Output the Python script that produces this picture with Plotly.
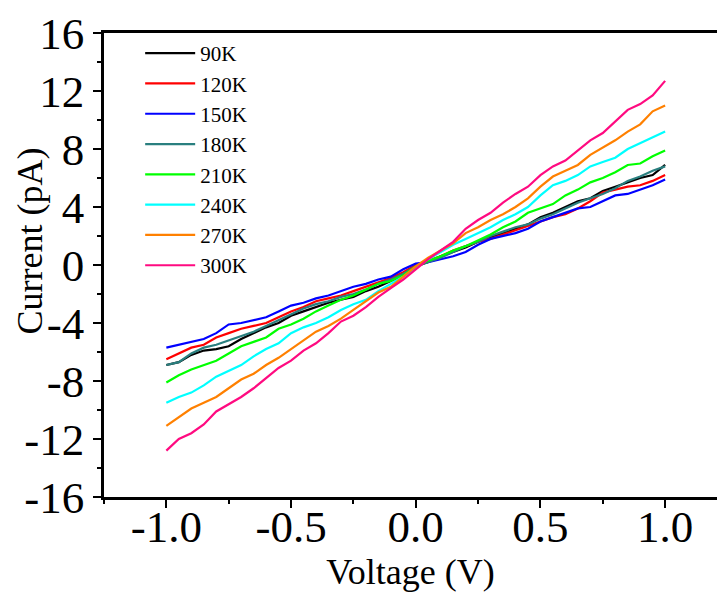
import plotly.graph_objects as go

voltage = [round(-1 + 0.05 * i, 2) for i in range(41)]

labels = ["90K", "120K", "150K", "180K", "210K", "240K", "270K", "300K"]
colors = ["#000000", "#FF0000", "#0000FF", "#2A7F7F", "#00FF00", "#00FFFF", "#FF8000", "#FF0A80"]

x_tickvals = [-1.0, -0.5, 0.0, 0.5, 1.0]
x_ticktext = ["-1.0", "-0.5", "0.0", "0.5", "1.0"]
y_tickvals = [-16, -12, -8, -4, 0, 4, 8, 12, 16]
y_ticktext = ["-16", "-12", "-8", "-4", "0", "4", "8", "12", "16"]

i_90K = [-6.9, -6.7, -6.2, -5.9, -5.8, -5.6, -5.1, -4.7, -4.3, -4.0, -3.5,
         -3.2, -2.9, -2.6, -2.4, -2.2, -1.8, -1.5, -1.1, -0.7, -0.1,
         0.2, 0.6, 0.9, 1.2, 1.6, 1.9, 2.2, 2.5, 2.8, 3.3,
         3.6, 4.0, 4.4, 4.6, 5.1, 5.4, 5.7, 6.0, 6.2, 6.9]
i_120K = [-6.5, -6.1, -5.7, -5.5, -5.0, -4.7, -4.4, -4.2, -4.0, -3.6, -3.2,
          -2.9, -2.5, -2.3, -2.1, -1.8, -1.5, -1.2, -0.9, -0.5, 0.0,
          0.3, 0.6, 1.0, 1.3, 1.6, 1.8, 2.1, 2.4, 2.7, 3.0,
          3.3, 3.5, 3.9, 4.4, 5.0, 5.2, 5.4, 5.5, 5.8, 6.2]
i_150K = [-5.7, -5.5, -5.3, -5.1, -4.7, -4.1, -4.0, -3.8, -3.6, -3.2, -2.8,
          -2.6, -2.3, -2.1, -1.8, -1.5, -1.3, -1.0, -0.8, -0.3, 0.1,
          0.2, 0.4, 0.6, 0.9, 1.4, 1.8, 2.0, 2.2, 2.5, 3.0,
          3.3, 3.6, 3.9, 4.0, 4.4, 4.8, 4.9, 5.2, 5.5, 5.9]
i_180K = [-6.9, -6.7, -6.1, -5.7, -5.5, -5.2, -4.9, -4.6, -4.2, -3.8, -3.4,
          -3.0, -2.7, -2.5, -2.2, -2.0, -1.7, -1.3, -1.0, -0.6, -0.1,
          0.2, 0.5, 0.9, 1.3, 1.6, 2.0, 2.3, 2.6, 2.8, 3.2,
          3.5, 3.9, 4.3, 4.6, 4.9, 5.3, 5.8, 6.1, 6.5, 6.8]
i_210K = [-8.1, -7.6, -7.2, -6.9, -6.6, -6.1, -5.6, -5.3, -5.0, -4.4, -4.1,
          -3.7, -3.2, -2.8, -2.4, -2.1, -1.7, -1.3, -1.1, -0.7, -0.1,
          0.3, 0.6, 1.0, 1.3, 1.7, 2.1, 2.6, 3.0, 3.6, 3.9,
          4.2, 4.8, 5.2, 5.7, 6.0, 6.4, 6.9, 7.0, 7.5, 7.9]
i_240K = [-9.5, -9.1, -8.8, -8.3, -7.7, -7.3, -6.9, -6.3, -5.8, -5.4, -4.7,
          -4.3, -4.0, -3.6, -3.1, -2.7, -2.4, -1.8, -1.3, -0.8, -0.2,
          0.4, 0.9, 1.4, 1.8, 2.2, 2.6, 3.1, 3.5, 4.0, 4.8,
          5.5, 5.8, 6.2, 6.8, 7.1, 7.4, 8.0, 8.4, 8.8, 9.2]
i_270K = [-11.1, -10.5, -9.9, -9.5, -9.1, -8.5, -7.9, -7.5, -6.9, -6.4, -5.8,
          -5.2, -4.6, -4.2, -3.7, -3.1, -2.5, -1.9, -1.5, -0.8, -0.1,
          0.5, 1.0, 1.5, 2.2, 2.6, 3.1, 3.5, 4.0, 4.6, 5.4,
          6.1, 6.5, 6.9, 7.6, 8.1, 8.6, 9.2, 9.7, 10.6, 11.0]
i_300K = [-12.8, -12.0, -11.6, -11.0, -10.1, -9.6, -9.1, -8.5, -7.8, -7.1, -6.6,
          -5.9, -5.4, -4.7, -3.9, -3.5, -2.9, -2.2, -1.6, -1.0, -0.3,
          0.4, 1.0, 1.6, 2.5, 3.1, 3.6, 4.3, 4.9, 5.4, 6.2,
          6.8, 7.2, 7.9, 8.6, 9.1, 9.9, 10.7, 11.1, 11.7, 12.7]

series = [i_90K, i_120K, i_150K, i_180K, i_210K, i_240K, i_270K, i_300K]

fig = go.Figure()
for name, col, vals in zip(labels, colors, series):
    fig.add_trace(go.Scatter(x=voltage, y=vals, mode="lines", name=name,
                             line=dict(color=col, width=2.2)))

serif = "Liberation Serif, Times New Roman, serif"
axis_common = dict(
    showgrid=False, zeroline=False, showline=True, linecolor="black", linewidth=2.5,
    ticks="outside", ticklen=8, tickwidth=2, tickcolor="black",
    tickfont=dict(family=serif, size=45, color="black"),
    mirror=True, automargin=False,
)
fig.update_layout(
    width=717, height=594,
    margin=dict(l=104, r=0, t=33, b=97),
    paper_bgcolor="white", plot_bgcolor="white",
    xaxis=dict(range=[-1.25, 1.208], tickvals=x_tickvals, ticktext=x_ticktext,
               ticklabelstandoff=-20,
               minor=dict(dtick=0.25, tick0=0, ticks="outside", ticklen=4, tickwidth=2, tickcolor="black"),
               title=dict(text="Voltage (V)", font=dict(family=serif, size=36, color="black"), standoff=0),
               **axis_common),
    yaxis=dict(range=[-16, 16], tickvals=y_tickvals, ticktext=y_ticktext,
               minor=dict(dtick=2, tick0=0, ticks="outside", ticklen=4, tickwidth=2, tickcolor="black"),
               **axis_common),
    legend=dict(x=0.059, y=1.0, xanchor="left", yanchor="top",
                font=dict(family=serif, size=21, color="black"),
                bgcolor="rgba(0,0,0,0)", itemwidth=50, tracegroupgap=0),
    showlegend=True,
    annotations=[dict(text="Current (pA)", textangle=-90, xref="paper", yref="paper",
                      x=-0.1207, y=0.5506, xanchor="center", yanchor="middle", showarrow=False,
                      font=dict(family=serif, size=36, color="black"))],
)

fig.write_html("out.html")
